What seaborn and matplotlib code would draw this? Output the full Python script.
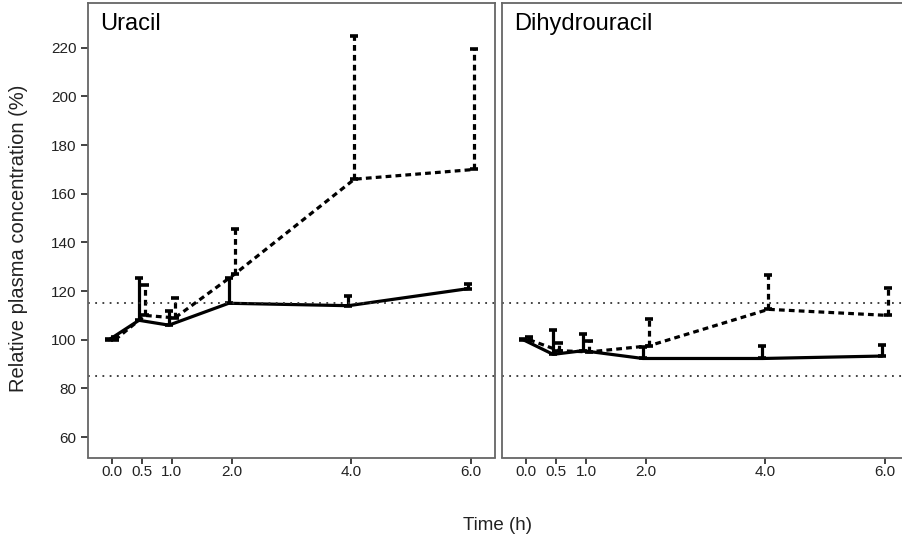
import numpy as np
import pandas as pd
import matplotlib
matplotlib.use("Agg")
import matplotlib.pyplot as plt
import seaborn as sns

# ---- data ----
times = [0.0, 0.5, 1.0, 2.0, 4.0, 6.0]
tick_labels = ["0.0", "0.5", "1.0", "2.0", "4.0", "6.0"]
analytes = ["Uracil", "Dihydrouracil"]
groups = ["Solid", "Dashed"]

uracil_solid_mean = [100, 108, 106, 115, 114, 121]
uracil_solid_sd = [0.5, 17.5, 6, 10.5, 4, 2]
uracil_dashed_mean = [100, 110, 109, 127, 166, 170]
uracil_dashed_sd = [1, 12.5, 8, 18.5, 59, 49.5]

dhu_solid_mean = [100, 94, 95.5, 92.3, 92.3, 93.3]
dhu_solid_sd = [0.5, 10, 6.8, 4.7, 5.1, 4.5]
dhu_dashed_mean = [100, 95.5, 95, 97.5, 112.5, 110]
dhu_dashed_sd = [1, 3, 4.6, 11, 14, 11.2]

ref_lines = [85, 115]
y_ticks = [60, 80, 100, 120, 140, 160, 180, 200, 220]

# ---- table ----
rows = []
series = {
    ("Uracil", "Solid"): (uracil_solid_mean, uracil_solid_sd),
    ("Uracil", "Dashed"): (uracil_dashed_mean, uracil_dashed_sd),
    ("Dihydrouracil", "Solid"): (dhu_solid_mean, dhu_solid_sd),
    ("Dihydrouracil", "Dashed"): (dhu_dashed_mean, dhu_dashed_sd),
}
dodge = {"Solid": -0.05, "Dashed": 0.05}
for (an, gr), (m, s) in series.items():
    for t, mv, sv in zip(times, m, s):
        rows.append(dict(Analyte=an, Group=gr, Time=t, X=t + dodge[gr], Mean=mv, SD=sv))
df = pd.DataFrame(rows)

sns.set_theme(style="white")
plt.rcParams["font.family"] = ["Liberation Sans", "DejaVu Sans"]

W, H = 903, 544
fig = plt.figure(figsize=(W / 100, H / 100), dpi=100)

def frac(x0, y0, x1, y1):
    return [x0 / W, 1 - y1 / H, (x1 - x0) / W, (y1 - y0) / H]

ax1 = fig.add_axes(frac(87.5, 3.3, 495, 457.5))
ax2 = fig.add_axes(frac(501.7, 3.3, 909, 457.5))

dash_pat = (1.8, 1.3)
for ax, an in zip([ax1, ax2], analytes):
    sub = df[df.Analyte == an]
    sns.lineplot(data=sub, x="X", y="Mean", style="Group", style_order=["Solid", "Dashed"],
                 dashes={"Solid": "", "Dashed": dash_pat}, color="black", lw=2.3,
                 legend=False, ax=ax, estimator=None, sort=True)
    for gr in groups:
        g = sub[sub.Group == gr]
        eb = ax.errorbar(g.X, g.Mean, yerr=[np.zeros(len(g)), g.SD], fmt="none",
                         ecolor="black", elinewidth=2.3, capsize=2.6, capthick=2.6)
        if gr == "Dashed":
            for lc in eb[2]:
                lc.set_linestyle((0, dash_pat))
                lc.set_capstyle("butt")
    for r in ref_lines:
        ax.axhline(r, color="#333333", lw=1.3, ls=(0, (1, 3)))
    ax.set_xlim(-0.41, 6.40)
    ax.set_ylim(51.6, 238.3)
    ax.set_xticks(times)
    ax.set_xticklabels(tick_labels)
    ax.set_xlabel("")
    ax.set_ylabel("")
    for sp in ax.spines.values():
        sp.set_visible(True)
        sp.set_color("#666666")
        sp.set_linewidth(1.3)
    ax.tick_params(axis="x", length=4.5, width=1.2, color="#222222", labelsize=11,
                   labelcolor="#222222", pad=1.2, bottom=True, direction="out")
    ax.text(0.03, 0.978, an, transform=ax.transAxes, ha="left", va="top",
            fontsize=17, color="black")

ax1.set_yticks(y_ticks)
ax1.tick_params(axis="y", length=5, width=1.2, color="#222222", labelsize=11,
                labelcolor="#222222", pad=3, left=True, direction="out")
ax2.set_yticks(y_ticks)
ax2.tick_params(axis="y", left=False, labelleft=False)

fig.text(498 / W, 1 - 525 / H, "Time (h)", ha="center", va="center", fontsize=13.5, color="#222222")
fig.text(19 / W, 1 - 238 / H, "Relative plasma concentration (%)", ha="center", va="center",
         rotation=90, fontsize=14.5, color="#222222")

fig.savefig("out.png", dpi=100)
